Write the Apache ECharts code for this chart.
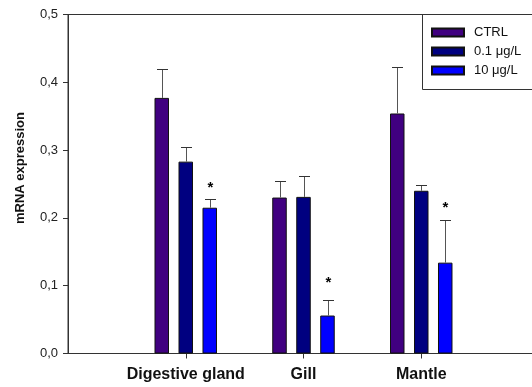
<!DOCTYPE html>
<html>
<head>
<meta charset="utf-8">
<script src="https://cdn.jsdelivr.net/npm/echarts@6/dist/echarts.min.js"></script>
<style>
  html, body { margin: 0; padding: 0; background: #fff; overflow: hidden; }
  #chart { width: 532px; height: 387px; }
</style>
</head>
<body>
<div id="chart"></div>
<script>
// Tissues along the x axis (placed at positions 1, 2, 3)
const categories = ['Digestive gland', 'Gill', 'Mantle'];
const seriesNames = ['CTRL', '0.1 μg/L', '10 μg/L'];
const seriesColors = ['#400080', '#000080', '#0000ff'];

// Mean relative expression and upper error per tissue
const ctrlMean = [0.377, 0.230, 0.354];
const ctrlErr  = [0.043, 0.024, 0.068];
const lowMean  = [0.283, 0.231, 0.240];
const lowErr   = [0.022, 0.031, 0.008];
const highMean = [0.215, 0.056, 0.134];
const highErr  = [0.013, 0.023, 0.063];

// Height at which a significance mark (*) sits; null = no mark
const ctrlStar = [null, null, null];
const lowStar  = [null, null, null];
const highStar = [0.249, 0.108, 0.219];

const yTickValues = [0, 0.1, 0.2, 0.3, 0.4, 0.5];

const means = [ctrlMean, lowMean, highMean];
const errs = [ctrlErr, lowErr, highErr];
const stars = [ctrlStar, lowStar, highStar];

const BAR_W = 14.5;
const BAR_STEP = 24;
const FONT = '"Liberation Sans", Arial, sans-serif';

const chart = echarts.init(document.getElementById('chart'), null, { renderer: 'canvas' });

const barSeries = seriesNames.map((name, s) => ({
  type: 'bar',
  name: name,
  data: categories.map((c, i) => [i + 1, means[s][i]]),
  barWidth: BAR_W,
  barGap: ((BAR_STEP - BAR_W) / BAR_W * 100).toFixed(1) + '%',
  itemStyle: { color: seriesColors[s], borderColor: '#111', borderWidth: 1 },
  emphasis: { disabled: true },
  z: 2
}));

const errSeries = seriesNames.map((name, s) => ({
  type: 'custom',
  name: name + ' err',
  data: categories.map((c, i) => [i + 1, means[s][i], errs[s][i],
                                  stars[s][i] == null ? -1 : stars[s][i]]),
  encode: { x: 0, y: 1 },
  z: 3,
  silent: true,
  renderItem: function (params, api) {
    const x = api.value(0), m = api.value(1), e = api.value(2), star = api.value(3);
    const off = (s - 1) * BAR_STEP;
    const base = api.coord([x, m]);
    const top = api.coord([x, m + e]);
    const cx = Math.round(base[0] + off) + 0.5;
    const ty = Math.round(top[1]) + 0.5;
    const children = [
      { type: 'line', shape: { x1: cx, y1: base[1], x2: cx, y2: ty },
        style: { stroke: '#555', lineWidth: 1 } },
      { type: 'line', shape: { x1: cx - 5.5, y1: ty, x2: cx + 5.5, y2: ty },
        style: { stroke: '#333', lineWidth: 1 } }
    ];
    if (star >= 0) {
      const sp = api.coord([x, star]);
      children.push({ type: 'text', x: cx, y: sp[1] + 3,
        style: { text: '*', fill: '#000', font: 'bold 15px ' + FONT,
                 align: 'center', verticalAlign: 'middle' } });
    }
    return { type: 'group', children: children };
  }
}));

chart.setOption({
  animation: false,
  backgroundColor: '#fff',
  grid: {
    left: 68, width: 471, top: 14.5, bottom: 33.5,
    outerBoundsMode: 'none',
    show: true, borderColor: '#333', borderWidth: 1, backgroundColor: 'transparent'
  },
  legend: {
    data: seriesNames,
    orient: 'vertical',
    left: 422, top: 14,
    padding: [11, 5, 10, 9],
    itemWidth: 32, itemHeight: 8, itemGap: 4,
    icon: 'rect',
    textStyle: { fontFamily: FONT, fontSize: 13, color: '#111', lineHeight: 15, padding: [0, 0, 0, 5] },
    selectedMode: false
  },
  graphic: [{
    // legend frame, running off the right edge
    type: 'rect', z: -1, silent: true,
    shape: { x: 422.5, y: 14.5, width: 130, height: 75 },
    style: { fill: '#fff', stroke: '#333', lineWidth: 1 }
  }],
  xAxis: {
    type: 'value', min: 0, max: 4, interval: 1,
    splitLine: { show: false },
    axisLine: { show: true, lineStyle: { color: '#333', width: 1 } },
    axisTick: { show: true, length: 5, customValues: [1, 2, 3], lineStyle: { color: '#333' } },
    axisLabel: {
      customValues: [1, 2, 3],
      formatter: v => categories[v - 1] || '',
      fontFamily: FONT, fontSize: 16, fontWeight: 'bold', color: '#111', margin: 13
    }
  },
  yAxis: {
    type: 'value', min: 0, max: 0.5, interval: 0.1,
    name: 'mRNA expression', nameLocation: 'middle', nameGap: 41,
    nameTextStyle: { fontFamily: FONT, fontSize: 13, fontWeight: 'bold', color: '#111',
                     padding: [0, 0, 0, 32] },
    splitLine: { show: false },
    axisLine: { show: true, lineStyle: { color: '#333', width: 1 } },
    axisTick: { show: true, inside: false, length: 5, lineStyle: { color: '#333' } },
    axisLabel: {
      customValues: yTickValues,
      formatter: v => v.toFixed(1).replace('.', ','),
      fontFamily: FONT, fontSize: 13, color: '#222', margin: 10
    }
  },
  series: barSeries.concat(errSeries)
});
</script>
</body>
</html>
